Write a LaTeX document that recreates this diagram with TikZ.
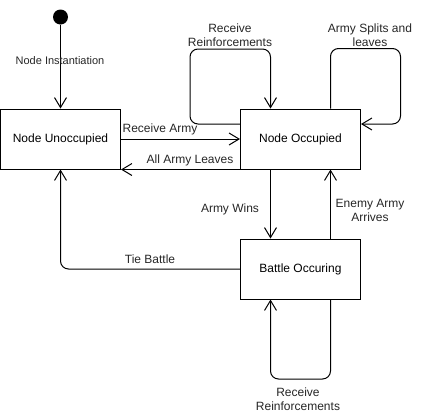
\documentclass[tikz,border=0pt]{standalone}
\usepackage{fontspec}
\setmainfont{Liberation Sans}
\usetikzlibrary{arrows.meta}
\begin{document}
\begin{tikzpicture}[x=1pt,y=-1pt,
 state/.style={draw, line width=1pt, minimum width=120pt, minimum height=60pt, inner sep=0pt, font=\fontsize{12}{14}\selectfont},
 edge/.style={line width=1pt, -{Straight Barb[length=10pt,width=12pt]}, rounded corners=8pt},
 lbl/.style={font=\fontsize{12}{14}\selectfont, inner sep=0pt, align=center, text=black!85}]
\useasboundingbox (0,0) rectangle (421,413);
\node[circle, fill=black, minimum size=15pt, inner sep=0pt] (init) at (60.5,17) {};
\node[state] (unocc) at (60.5,139) {Node Unoccupied};
\node[state] (occ) at (300.5,139) {Node Occupied};
\node[state] (battle) at (300.5,269) {Battle Occuring};

\draw[edge] (init) -- (unocc);
\draw[edge] (unocc.east) -- (occ.west);
\draw[edge] (occ.south west) -- (unocc.south east);
\draw[edge] ([yshift=15pt]occ.west) -- ++(-50,0) |- (270.5,49) -- ([xshift=-30pt]occ.north);
\draw[edge] ([xshift=30pt]occ.north) -- ++(0,-60) -| (400.5,124) -- ([yshift=15pt]occ.east);
\draw[edge] ([xshift=-30pt]occ.south) -- ([xshift=-30pt]battle.north);
\draw[edge] ([xshift=30pt]battle.north) -- ([xshift=30pt]occ.south);
\draw[edge] (battle.west) -| (unocc.south);
\draw[edge] ([xshift=30pt]battle.south) |- (270.5,379) -- ([xshift=-30pt]battle.south);

\node[lbl, font=\fontsize{11}{13}\selectfont] (l1) at (60,61) {Node Instantiation};
\node[lbl] (l2) at (160,129) {Receive Army};
\node[lbl] (l3) at (190,160) {All Army Leaves};
\node[lbl] (l4) at (230,35) {Receive\\Reinforcements};
\node[lbl] (l5) at (370,35) {Army Splits and\\leaves};
\node[lbl] (l6) at (230,209) {Army Wins};
\node[lbl] (l7) at (370,210) {Enemy Army\\Arrives};
\node[lbl] (l8) at (150,259) {Tie Battle};
\node[lbl] (l9) at (298,399) {Receive\\Reinforcements};
\end{tikzpicture}
\end{document}
